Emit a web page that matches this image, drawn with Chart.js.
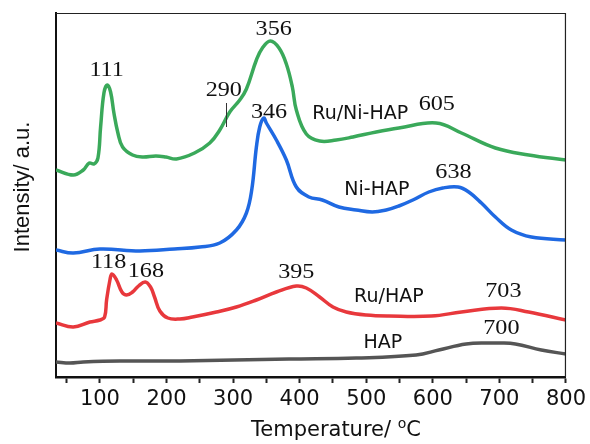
<!DOCTYPE html>
<html>
<head>
<meta charset="utf-8">
<script src="https://cdn.jsdelivr.net/npm/chart.js@4/dist/chart.umd.min.js"></script>
<style>
  html, body { margin: 0; padding: 0; background: #fff; }
  #box { width: 590px; height: 444px; }
</style>
</head>
<body>
<div id="box"><canvas id="tpr"></canvas></div>
<script>
// H2-TPR profiles, offset vertically (arbitrary intensity units)
const hapTemp   = [34, 55, 75, 130, 220, 384, 485, 575, 609, 650, 684, 700, 724, 763, 800];
const hapVal    = [15, 14, 15, 16, 16, 18, 19, 22, 27, 33, 34, 34, 33, 27, 23];

const ruHapTemp = [34, 60, 85, 100, 107, 110, 115, 118, 125, 133, 140, 149, 158, 168, 176, 182, 190, 202, 220, 239, 275, 305, 335, 365, 395, 410, 430, 450, 470, 500, 534, 598, 643, 703, 744, 800];
const ruHapVal  = [54, 50, 55, 57, 60, 77, 97, 103, 97, 85, 82, 85, 91, 95, 90, 80, 66, 59, 58, 60, 65, 70, 77, 85, 91, 89, 80, 70, 65, 62, 61, 61, 65, 69, 65, 57];

const niHapTemp = [34, 60, 100, 160, 212, 250, 280, 305, 320, 328, 335, 340, 346, 350, 365, 380, 395, 414, 434, 459, 485, 509, 530, 549, 570, 594, 615, 638, 654, 673, 694, 718, 748, 800];
const niHapVal  = [127, 124, 128, 126, 128, 130, 134, 147, 164, 187, 230, 250, 259, 254, 237, 217, 190, 180, 177, 170, 167, 165, 167, 171, 177, 185, 189, 190, 185, 174, 160, 147, 140, 137];

const ruNiTemp  = [34, 60, 75, 84, 91, 97, 101, 106, 111, 116, 121, 127, 134, 149, 164, 184, 199, 215, 242, 265, 280, 295, 310, 320, 335, 344, 356, 369, 380, 389, 395, 410, 430, 455, 480, 515, 549, 605, 643, 694, 744, 800];
const ruNiVal   = [207, 202, 207, 214, 213, 219, 250, 284, 292, 285, 264, 244, 230, 222, 220, 221, 220, 218, 224, 234, 247, 265, 277, 288, 317, 329, 336, 329, 313, 290, 267, 243, 236, 237, 240, 245, 249, 254, 244, 229, 222, 217];

const xTicks = [100, 200, 300, 400, 500, 600, 700, 800];

// peak temperatures, written next to each maximum: [text, temp, intensity]
const peakLabels = [
  ['111', 110, 307], ['356', 361, 348], ['290', 286, 287], ['346', 354, 265],
  ['605', 606, 273], ['638', 631, 205], ['118', 113, 115], ['168', 169, 106],
  ['395', 395, 105], ['703', 706, 86], ['700', 703, 49]
];
const sampleLabels = [
  ['Ru/Ni-HAP', 491, 263], ['Ni-HAP', 516, 187], ['Ru/HAP', 534, 80], ['HAP', 525, 34]
];
// small marker under the 290 shoulder
const shoulder = { temp: 290, from: 250, to: 274 };

function pts(t, v) { return t.map((x, i) => ({ x, y: v[i] })); }

function series(label, t, v, color) {
  return {
    label,
    data: pts(t, v),
    borderColor: color,
    borderWidth: 3.5,
    pointRadius: 0,
    tension: 0.4,
    fill: false
  };
}

const textPlugin = {
  id: 'tprText',
  afterDraw(chart) {
    const { ctx, chartArea: a, scales: { x, y } } = chart;
    ctx.save();

    // thin top and right frame
    ctx.strokeStyle = '#222';
    ctx.lineWidth = 1.2;
    ctx.beginPath();
    ctx.moveTo(a.left, a.top + 0.5);
    ctx.lineTo(a.right - 0.5, a.top + 0.5);
    ctx.lineTo(a.right - 0.5, a.bottom);
    ctx.stroke();

    // shoulder marker
    ctx.lineWidth = 1;
    ctx.strokeStyle = '#333';
    const sx = Math.round(x.getPixelForValue(shoulder.temp)) + 0.5;
    ctx.beginPath();
    ctx.moveTo(sx, y.getPixelForValue(shoulder.from));
    ctx.lineTo(sx, y.getPixelForValue(shoulder.to));
    ctx.stroke();

    ctx.fillStyle = '#111';
    ctx.textAlign = 'center';
    ctx.textBaseline = 'middle';

    ctx.font = '21px "Liberation Serif", "Times New Roman", serif';
    peakLabels.forEach(([txt, t, v]) => {
      ctx.save();
      ctx.translate(x.getPixelForValue(t), y.getPixelForValue(v));
      ctx.scale(1.15, 1);
      ctx.fillText(txt, 0, 0);
      ctx.restore();
    });

    ctx.font = '19px "DejaVu Sans", sans-serif';
    sampleLabels.forEach(([txt, t, v]) => {
      ctx.fillText(txt, x.getPixelForValue(t), y.getPixelForValue(v));
    });

    // axis titles
    ctx.save();
    ctx.translate(23, a.top + 174);
    ctx.rotate(-Math.PI / 2);
    ctx.font = '22px "Liberation Sans", Arial, sans-serif';
    ctx.fillText('Intensity/ a.u.', 0, 0);
    ctx.restore();

    const main = 'Temperature/ ';
    const big = '21px "DejaVu Sans", sans-serif';
    const small = '14px "DejaVu Sans", sans-serif';
    ctx.font = big;
    const w1 = ctx.measureText(main).width, w3 = ctx.measureText('C').width;
    ctx.font = small;
    const w2 = ctx.measureText('o').width;
    let tx = 336 - (w1 + w2 + w3) / 2;
    const ty = 431;
    ctx.textAlign = 'left';
    ctx.font = big;
    ctx.fillText(main, tx, ty);
    ctx.font = small;
    ctx.fillText('o', tx + w1, ty - 7);
    ctx.font = big;
    ctx.fillText('C', tx + w1 + w2, ty);

    ctx.restore();
  }
};

new Chart(document.getElementById('tpr'), {
  type: 'line',
  data: {
    datasets: [
      series('HAP', hapTemp, hapVal, '#555555'),
      series('Ru/HAP', ruHapTemp, ruHapVal, '#e8383c'),
      series('Ni-HAP', niHapTemp, niHapVal, '#1f69e2'),
      series('Ru/Ni-HAP', ruNiTemp, ruNiVal, '#3aa95a')
    ]
  },
  options: {
    responsive: true,
    maintainAspectRatio: false,
    animation: false,
    layout: { padding: { top: 13, right: 22, left: 0, bottom: 0 } },
    plugins: { legend: { display: false }, tooltip: { enabled: false } },
    scales: {
      x: {
        type: 'linear',
        min: 34,
        max: 800,
        afterFit: s => { s.height = 67; },
        afterBuildTicks: s => {
          const t = [];
          for (let v = 50; v <= 800; v += 50) t.push({ value: v });
          s.ticks = t;
        },
        ticks: {
          autoSkip: false,
          maxRotation: 0,
          padding: 4,
          color: '#111',
          font: { family: '"DejaVu Sans", sans-serif', size: 21 },
          callback: v => (xTicks.includes(v) ? String(v) : '')
        },
        grid: { drawOnChartArea: false, tickLength: 6, tickWidth: 2, color: '#222' },
        border: { color: '#111', width: 2.5 }
      },
      y: {
        min: 0,
        max: 364,
        afterFit: s => { s.width = 56; },
        ticks: { display: false },
        grid: { display: false },
        border: { color: '#111', width: 2 }
      }
    }
  },
  plugins: [textPlugin]
});
</script>
</body>
</html>
